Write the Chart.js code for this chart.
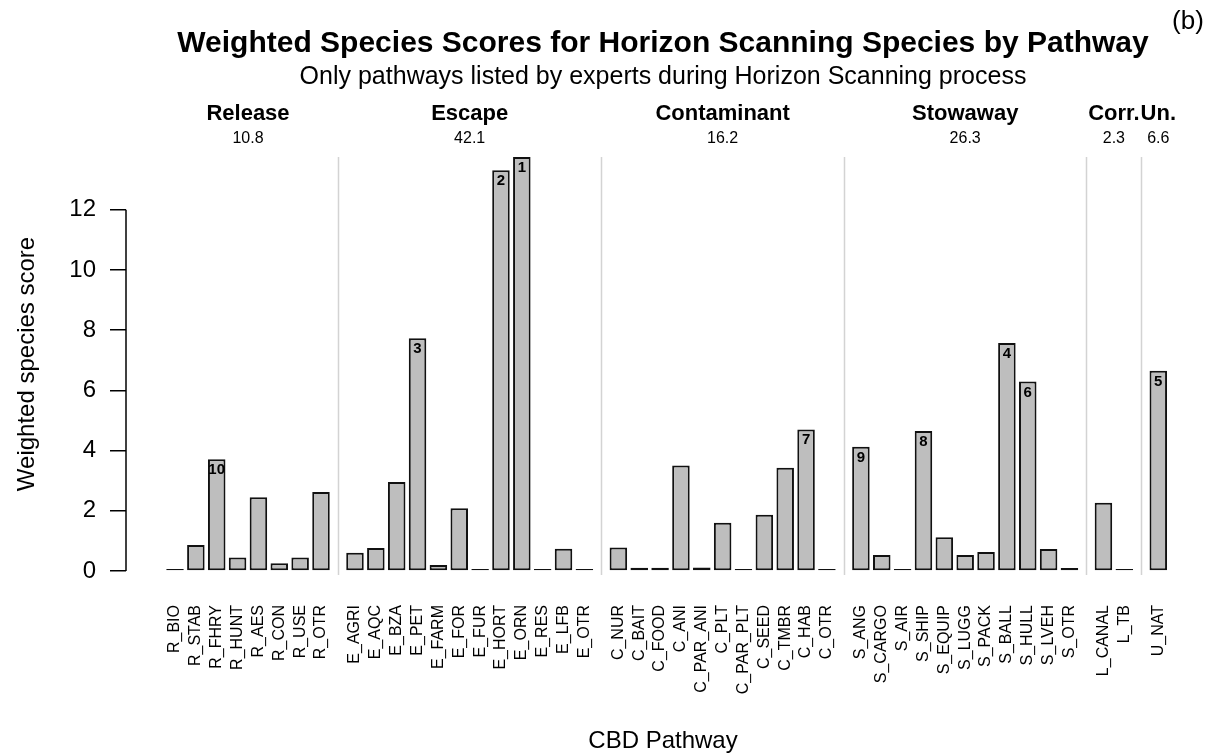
<!DOCTYPE html>
<html>
<head>
<meta charset="utf-8">
<script src="https://cdn.jsdelivr.net/npm/chart.js@4.4.1/dist/chart.umd.min.js"></script>
<style>
  html, body { margin: 0; padding: 0; background: #fff; }
  #wrap { width: 1215px; height: 756px; }
</style>
</head>
<body>
<div id="wrap"><canvas id="chart"></canvas></div>
<script>
// pathway groups and their totals (shown above the plot)
const groupNames = ['Release', 'Escape', 'Contaminant', 'Stowaway', 'Corr.', 'Un.']
const groupTotals = ['10.8', '42.1', '16.2', '26.3', '2.3', '6.6']

const releaseLabels = ['R_BIO', 'R_STAB', 'R_FHRY', 'R_HUNT', 'R_AES', 'R_CON', 'R_USE', 'R_OTR']
const releaseScores = [0, 0.86, 3.71, 0.45, 2.45, 0.26, 0.45, 2.62]

const escapeLabels = ['E_AGRI', 'E_AQC', 'E_BZA', 'E_PET', 'E_FARM', 'E_FOR', 'E_FUR', 'E_HORT', 'E_ORN', 'E_RES', 'E_LFB', 'E_OTR']
const escapeScores = [0.61, 0.76, 2.96, 7.73, 0.2, 2.08, 0, 13.31, 13.75, 0, 0.74, 0]

const contaminantLabels = ['C_NUR', 'C_BAIT', 'C_FOOD', 'C_ANI', 'C_PAR_ANI', 'C_PLT', 'C_PAR_PLT', 'C_SEED', 'C_TMBR', 'C_HAB', 'C_OTR']
const contaminantScores = [0.78, 0.11, 0.11, 3.5, 0.12, 1.6, 0, 1.87, 3.43, 4.7, 0]

const stowawayLabels = ['S_ANG', 'S_CARGO', 'S_AIR', 'S_SHIP', 'S_EQUIP', 'S_LUGG', 'S_PACK', 'S_BALL', 'S_HULL', 'S_LVEH', 'S_OTR']
const stowawayScores = [4.13, 0.53, 0, 4.65, 1.12, 0.53, 0.63, 7.57, 6.29, 0.73, 0.1]

const corridorLabels = ['L_CANAL', 'L_TB']
const corridorScores = [2.27, 0]

const unaidedLabels = ['U_NAT']
const unaidedScores = [6.65]

// ranked top ten pathways (rank = position + 1)
const topTen = ['E_ORN', 'E_HORT', 'E_PET', 'S_BALL', 'U_NAT', 'S_HULL', 'C_HAB', 'S_SHIP', 'S_ANG', 'R_FHRY']

const yTicks = [0, 2, 4, 6, 8, 10, 12]

const groups = [
  [releaseLabels, releaseScores],
  [escapeLabels, escapeScores],
  [contaminantLabels, contaminantScores],
  [stowawayLabels, stowawayScores],
  [corridorLabels, corridorScores],
  [unaidedLabels, unaidedScores],
]

// extra space between groups, in bar slots
const GAP = 0.63
const labels = []
const points = []
const spans = []
let pos = 0
groups.forEach(([names, scores], gi) => {
  if (gi > 0) pos += GAP
  const first = pos
  names.forEach((n, i) => {
    labels.push(n)
    points.push({ x: pos, y: scores[i] })
    pos++
  })
  spans.push([first, pos - 1])
})

const FONT = '"Liberation Sans", Arial, sans-serif'
Chart.defaults.font.family = FONT
Chart.defaults.color = '#000'

const decor = {
  id: 'decor',
  beforeDatasetsDraw(chart) {
    const { ctx, chartArea, scales: { x, y } } = chart
    ctx.save()
    ctx.strokeStyle = '#d3d3d3'
    ctx.lineWidth = 1.5
    for (let i = 1; i < spans.length; i++) {
      const px = Math.round(x.getPixelForValue((spans[i - 1][1] + spans[i][0]) / 2)) + 0.5
      ctx.beginPath()
      ctx.moveTo(px, chartArea.top)
      ctx.lineTo(px, chartArea.bottom + 4)
      ctx.stroke()
    }
    ctx.strokeStyle = '#000'
    ctx.beginPath()
    ctx.moveTo(chartArea.left, y.getPixelForValue(yTicks[0]))
    ctx.lineTo(chartArea.left, y.getPixelForValue(yTicks[yTicks.length - 1]))
    ctx.stroke()
    ctx.restore()
  },
  afterDatasetsDraw(chart) {
    const { ctx, chartArea, scales: { x } } = chart
    const bars = chart.getDatasetMeta(0).data
    ctx.save()
    ctx.fillStyle = '#000'
    ctx.textAlign = 'center'

    ctx.font = 'bold 15px ' + FONT
    ctx.textBaseline = 'alphabetic'
    topTen.forEach((name, r) => {
      const bar = bars[labels.indexOf(name)]
      ctx.fillText(String(r + 1), bar.x, bar.y + 15)
    })

    ctx.textBaseline = 'middle'
    spans.forEach(([a, b], i) => {
      const cx = x.getPixelForValue((a + b) / 2)
      ctx.font = 'bold 22px ' + FONT
      ctx.fillText(groupNames[i], cx, chartArea.top - 43)
      ctx.font = '16px ' + FONT
      ctx.fillText(groupTotals[i], cx, chartArea.top - 18)
    })

    ctx.font = '26px ' + FONT
    ctx.fillText('(b)', 1188, 22)
    ctx.restore()
  }
}

new Chart(document.getElementById('chart'), {
  type: 'bar',
  data: {
    labels: labels,
    datasets: [{
      data: points,
      backgroundColor: '#bebebe',
      borderColor: '#111',
      borderWidth: 2,
      borderSkipped: false,
      minBarLength: 2,
      categoryPercentage: 1,
      barPercentage: 0.84,
    }]
  },
  options: {
    responsive: true,
    maintainAspectRatio: false,
    animation: false,
    layout: { padding: { left: 0, right: 15, top: 0, bottom: 0 } },
    plugins: {
      legend: { display: false },
      tooltip: { enabled: false },
      title: {
        display: true,
        fullSize: false,
        text: 'Weighted Species Scores for Horizon Scanning Species by Pathway',
        font: { size: 30, weight: 'bold' },
        padding: { top: 26, bottom: 0 },
      },
      subtitle: {
        display: true,
        fullSize: false,
        text: 'Only pathways listed by experts during Horizon Scanning process',
        color: '#000',
        font: { size: 25 },
        padding: { top: 0, bottom: 65 },
      },
    },
    scales: {
      x: {
        type: 'linear',
        offset: false,
        min: -2.35,
        max: 49.15,
        grid: { display: false, drawTicks: false, offset: false },
        border: { display: false },
        afterBuildTicks(scale) {
          scale.ticks = points.map(p => ({ value: p.x }))
        },
        afterFit(scale) { scale.height = 185 },
        ticks: {
          autoSkip: false,
          minRotation: 90,
          maxRotation: 90,
          padding: 34,
          font: { size: 16 },
          callback: (v, i) => labels[i],
        },
        title: {
          display: true,
          text: 'CBD Pathway',
          font: { size: 24 },
          padding: { top: 0, bottom: 0 },
        },
      },
      y: {
        min: 0,
        max: 13.75,
        afterBuildTicks(scale) {
          scale.ticks = yTicks.map(v => ({ value: v }))
        },
        afterFit(scale) { scale.width = 126 },
        grid: { drawOnChartArea: false, drawTicks: true, tickLength: 16, color: '#000', lineWidth: 1.5 },
        border: { display: false },
        ticks: {
          padding: 14,
          font: { size: 24 },
          callback: v => String(v),
        },
        title: {
          display: true,
          text: 'Weighted species score',
          font: { size: 24 },
          padding: { top: 13, bottom: 0 },
        },
      },
    },
  },
  plugins: [decor],
})
</script>
</body>
</html>
